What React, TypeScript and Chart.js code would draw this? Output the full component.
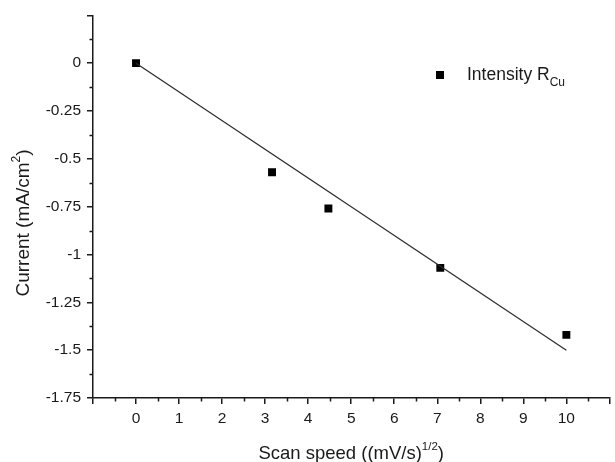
import { useEffect, useRef } from 'react';
import { Chart, registerables } from 'chart.js';

Chart.register(...registerables);

const FONT = '"Liberation Sans", Arial, Helvetica, sans-serif';
const INK = '#1a1a1a';

// Data
const scanSpeed = [0, 3.16, 4.47, 7.07, 10];
const current = [0, -0.57, -0.76, -1.07, -1.42];
const fitX = [0, 10];
const fitY = [0, -1.5];
const xTickLabels = ['0', '1', '2', '3', '4', '5', '6', '7', '8', '9', '10'];
const yTickLabels = ['0', '-0.25', '-0.5', '-0.75', '-1', '-1.25', '-1.5', '-1.75'];
const seriesName = 'Intensity R';
const seriesSub = 'Cu';

type Seg = { t: string; s: number; dy: number };

function segWidth(ctx: CanvasRenderingContext2D, segs: Seg[]) {
  let w = 0;
  for (const g of segs) {
    ctx.font = `${g.s}px ${FONT}`;
    w += ctx.measureText(g.t).width;
  }
  return w;
}

function drawSegs(ctx: CanvasRenderingContext2D, segs: Seg[], x: number, y: number) {
  let cx = x;
  ctx.textAlign = 'left';
  ctx.textBaseline = 'alphabetic';
  for (const g of segs) {
    ctx.font = `${g.s}px ${FONT}`;
    ctx.fillText(g.t, cx, y + g.dy);
    cx += ctx.measureText(g.t).width;
  }
}

const decorPlugin = {
  id: 'decor',
  afterDraw(chart: any) {
    const ctx: CanvasRenderingContext2D = chart.ctx;
    const xs = chart.scales.x;
    const ys = chart.scales.y;
    const area = chart.chartArea;
    ctx.save();
    ctx.strokeStyle = INK;
    ctx.lineWidth = 1.5;
    // minor ticks
    ctx.beginPath();
    for (let v = -0.5; v <= 10.5; v += 1) {
      const px = Math.round(xs.getPixelForValue(v)) + 0.5;
      ctx.moveTo(px, area.bottom);
      ctx.lineTo(px, area.bottom + 3.5);
    }
    for (let v = -1.625; v <= 0.13; v += 0.25) {
      const py = Math.round(ys.getPixelForValue(v)) + 0.5;
      ctx.moveTo(area.left, py);
      ctx.lineTo(area.left - 3.5, py);
    }
    ctx.stroke();

    ctx.fillStyle = INK;
    // x title
    const xt: Seg[] = [
      { t: 'Scan speed ((mV/s)', s: 18.5, dy: 0 },
      { t: '1/2', s: 11.5, dy: -9 },
      { t: ')', s: 18.5, dy: 0 },
    ];
    const xw = segWidth(ctx, xt);
    drawSegs(ctx, xt, (area.left + area.right) / 2 - xw / 2, 459);

    // y title
    const yt: Seg[] = [
      { t: 'Current (mA/cm', s: 19, dy: 0 },
      { t: '2', s: 12, dy: -9 },
      { t: ')', s: 19, dy: 0 },
    ];
    const yw = segWidth(ctx, yt);
    ctx.save();
    ctx.translate(29, 223);
    ctx.rotate(-Math.PI / 2);
    drawSegs(ctx, yt, -yw / 2, 0);
    ctx.restore();

    // legend
    ctx.fillStyle = '#000';
    ctx.fillRect(436, 71, 8, 8);
    ctx.fillStyle = INK;
    drawSegs(ctx, [
      { t: seriesName, s: 17.5, dy: 0 },
      { t: seriesSub, s: 12, dy: 6 },
    ], 467, 80);
    ctx.restore();
  },
};

export default function App() {
  const ref = useRef<HTMLCanvasElement | null>(null);
  useEffect(() => {
    document.body.style.margin = '0';
    if (!ref.current) return;
    const chart = new Chart(ref.current, {
      type: 'scatter',
      data: {
        datasets: [
          {
            type: 'line',
            label: 'fit',
            data: fitX.map((x, i) => ({ x, y: fitY[i] })),
            borderColor: '#2a2a2a',
            borderWidth: 1.2,
            pointRadius: 0,
            showLine: true,
            fill: false,
          } as any,
          {
            type: 'scatter',
            label: seriesName + seriesSub,
            data: scanSpeed.map((x, i) => ({ x, y: current[i] })),
            pointStyle: 'rect',
            pointRadius: 5.6,
            backgroundColor: '#000',
            borderColor: '#000',
            borderWidth: 0,
          },
        ],
      },
      options: {
        responsive: false,
        animation: false,
        layout: { padding: { top: 14, right: 0, bottom: 0, left: 0 } },
        plugins: { legend: { display: false }, tooltip: { enabled: false } },
        scales: {
          x: {
            type: 'linear',
            min: -1,
            max: 11,
            afterFit: (s: any) => { s.height = 64; },
            ticks: {
              stepSize: 1,
              autoSkip: false,
              maxRotation: 0,
              padding: 5,
              color: INK,
              font: { family: FONT, size: 15.5 },
              callback: (v: any) => {
                const i = Math.round(Number(v));
                return i >= 0 && i < xTickLabels.length ? xTickLabels[i] : '';
              },
            },
            grid: { drawOnChartArea: false, drawTicks: true, tickLength: 6, color: INK, lineWidth: 1.5 },
            border: { display: true, color: INK, width: 1.5 },
          },
          y: {
            type: 'linear',
            min: -1.75,
            max: 0.25,
            afterFit: (s: any) => { s.width = 93; },
            ticks: {
              stepSize: 0.25,
              autoSkip: false,
              padding: 6,
              color: INK,
              font: { family: FONT, size: 15.5 },
              callback: (v: any) => {
                const i = Math.round(-Number(v) / 0.25);
                return i >= 0 && i < yTickLabels.length ? yTickLabels[i] : '';
              },
            },
            grid: { drawOnChartArea: false, drawTicks: true, tickLength: 6, color: INK, lineWidth: 1.5 },
            border: { display: true, color: INK, width: 1.5 },
          },
        },
      },
      plugins: [decorPlugin],
    });
    return () => chart.destroy();
  }, []);
  return (
    <div style={{ width: 615, height: 462 }}>
      <canvas ref={ref} width={615} height={462} />
    </div>
  );
}
